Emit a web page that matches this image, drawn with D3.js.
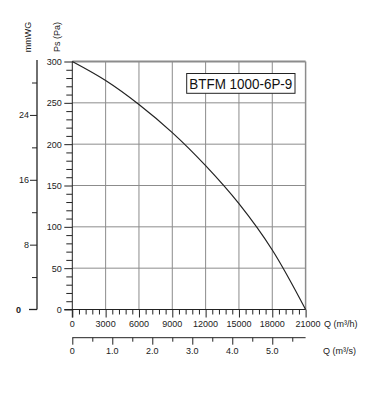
<!DOCTYPE html>
<html><head><meta charset="utf-8">
<script src="https://cdn.jsdelivr.net/npm/d3@7"></script>
<style>
html,body{margin:0;padding:0;background:#fff;}
svg{display:block;font-family:"Liberation Sans",Arial,sans-serif;}
</style></head>
<body><svg id="c" width="387" height="394"></svg>
<script>
// ---- data ----
const flowM3h = [0, 3000, 6000, 9000, 12000, 15000, 18000, 21000];
const pressurePa = [300, 277, 248, 214, 174, 128, 72, 0];
const flowTicks = [0, 3000, 6000, 9000, 12000, 15000, 18000, 21000];
const paTicks = [0, 50, 100, 150, 200, 250, 300];
const mmwgTicks = [0, 8, 16, 24];
const m3sTicks = [0, 1, 2, 3, 4, 5];
const m3sLabels = ["0", "1.0", "2.0", "3.0", "4.0", "5.0"];
const modelName = "BTFM 1000-6P-9";

const svg = d3.select("#c");
const L = 72.3, R = 305.6, T = 61.5, B = 309.5;
const x = d3.scaleLinear().domain([0, 21000]).range([L, R]);
const y = d3.scaleLinear().domain([0, 300]).range([B, T]);
const yMm = d3.scaleLinear().domain([0, 300 / 9.80665]).range([B, T]);
const xS = d3.scaleLinear().domain([0, 21000 / 3600]).range([L, R]);
const font = 9;

// grid
const g = svg.append("g");
g.selectAll(".vg").data(d3.range(3000, 21001, 3000)).join("line")
  .attr("x1", d => x(d)).attr("x2", d => x(d)).attr("y1", T).attr("y2", B)
  .attr("stroke", "#8c8c8c").attr("stroke-width", d => d === 21000 ? 1.5 : 1);
g.selectAll(".hg").data(d3.range(50, 301, 50)).join("line")
  .attr("x1", L).attr("x2", R).attr("y1", d => y(d)).attr("y2", d => y(d))
  .attr("stroke", "#8c8c8c").attr("stroke-width", d => d === 300 ? 1.8 : 1);

// Pa axis
const ay = svg.append("g").attr("transform", `translate(${L},0)`);
ay.call(d3.axisLeft(y).tickValues(d3.range(0, 301, 10)).tickSize(6).tickFormat(""));
ay.call(g2 => g2.selectAll(".tick").filter(d => d % 50 === 0).select("line").attr("x2", -8));
ay.selectAll(".tick").filter(d => paTicks.includes(d)).append("text")
  .attr("x", -10.5).attr("dy", "0.35em").attr("text-anchor", "end")
  .attr("fill", "#222").attr("font-size", font).text(d => d);
ay.select(".domain").remove();
ay.append("line").attr("x1", 0).attr("x2", 0).attr("y1", T).attr("y2", B + 8).attr("stroke", "#222");
ay.selectAll("line").attr("stroke", "#222");

// flow axis (m3/h)
const ax = svg.append("g").attr("transform", `translate(0,${B})`);
ax.call(d3.axisBottom(x).tickValues(d3.range(0, 21001, 600)).tickSize(5).tickFormat(""));
ax.selectAll(".tick").filter(d => d % 3000 === 0).select("line").attr("y2", 8);
ax.select(".domain").remove();
ax.append("line").attr("x1", L - 8).attr("x2", R).attr("stroke", "#222");
ax.selectAll("line").attr("stroke", "#222");
ax.selectAll(".lab").data(flowTicks).join("text")
  .attr("x", d => x(d) + (d === 21000 ? 2.5 : 0)).attr("y", 17)
  .attr("text-anchor", "middle").attr("font-size", font).attr("fill", "#222").text(d => d);
svg.append("text").attr("x", 324).attr("y", B + 17).attr("font-size", font).attr("fill", "#222")
  .text("Q (m³/h)");

// m3/s axis
const yS = 337.7;
const as = svg.append("g").attr("transform", `translate(0,${yS})`);
as.call(d3.axisBottom(xS).tickValues(d3.range(0, 5.6, 0.5)).tickSize(4).tickFormat(""));
as.selectAll(".tick").filter(d => Math.abs(d - Math.round(d)) < 1e-6).select("line").attr("y2", 7);
as.select(".domain").remove();
as.append("line").attr("x1", L).attr("x2", R).attr("stroke", "#222");
as.selectAll("line").attr("stroke", "#222");
as.selectAll(".lab").data(m3sTicks).join("text")
  .attr("x", d => xS(d)).attr("y", 16.5).attr("text-anchor", "middle")
  .attr("font-size", font).attr("fill", "#222").text((d, i) => m3sLabels[i]);
svg.append("text").attr("x", 323).attr("y", yS + 16.5).attr("font-size", font).attr("fill", "#222")
  .text("Q (m³/s)");

// mmWG axis
const mx = 37;
const am = svg.append("g").attr("transform", `translate(${mx},0)`);
am.call(d3.axisLeft(yMm).tickValues(d3.range(4, 30, 4)).tickSize(5).tickFormat(""));
am.selectAll(".tick").filter(d => d % 8 === 0).select("line").attr("x2", -7);
am.select(".domain").remove();
am.append("line").attr("x1", 0).attr("x2", 0).attr("y1", T - 1.5).attr("y2", B).attr("stroke", "#222").attr("stroke-width", 1.3);
am.append("line").attr("x1", -8).attr("x2", 0).attr("y1", yMm(0)).attr("y2", yMm(0)).attr("stroke", "#222").attr("stroke-width", 1.3);
am.selectAll("line").attr("stroke", "#222");
am.selectAll(".lab").data(mmwgTicks).join("text")
  .attr("x", d => d === 0 ? -16 : -8).attr("y", d => yMm(d)).attr("dy", "0.35em")
  .attr("text-anchor", "end").attr("font-size", font).attr("fill", "#222")
  .attr("font-weight", d => d === 0 ? "bold" : "normal").text(d => d);

// axis titles
svg.append("text").attr("transform", "translate(30.5,37) rotate(-90)").attr("text-anchor", "middle")
  .attr("font-size", font).attr("fill", "#222").text("mmWG");
svg.append("text").attr("transform", "translate(59.5,37) rotate(-90)").attr("text-anchor", "middle")
  .attr("font-size", font).attr("fill", "#222").text("Ps (Pa)");

// curve
const pts = flowM3h.map((q, i) => [q, pressurePa[i]]);
svg.append("path").datum(pts)
  .attr("d", d3.line().x(d => x(d[0])).y(d => y(d[1])).curve(d3.curveCatmullRom.alpha(0.5)))
  .attr("fill", "none").attr("stroke", "#222").attr("stroke-width", 1.2);

// model label
const lb = svg.append("g");
lb.append("rect").attr("x", 186.7).attr("y", 73.5).attr("width", 108.3).attr("height", 19.8)
  .attr("fill", "#fff").attr("stroke", "#222").attr("stroke-width", 1);
lb.append("text").attr("x", 240.8).attr("y", 88.8).attr("text-anchor", "middle")
  .attr("font-size", 14).attr("textLength", 103).attr("lengthAdjust", "spacingAndGlyphs")
  .attr("fill", "#111").text(modelName);
</script></body></html>
